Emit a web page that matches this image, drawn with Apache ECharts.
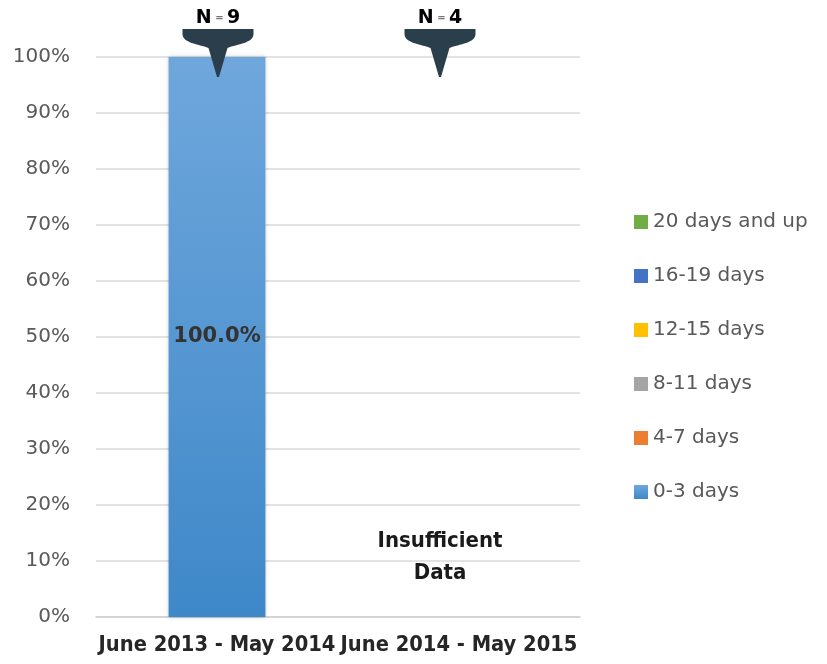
<!DOCTYPE html>
<html>
<head>
<meta charset="utf-8">
<script src="https://cdn.jsdelivr.net/npm/echarts@6/dist/echarts.min.js"></script>
<style>
  html, body { margin: 0; padding: 0; background: #fff; }
  #main { width: 827px; height: 664px; }
</style>
</head>
<body>
<div id="main"></div>
<script>
// periods and sample size per period
var categories = ['June 2013 - May 2014', 'June 2014 - May 2015'];
var sampleN = [9, 4];
// share of cases by length of stay (%), second period has no data
var days0to3 = [100, null];
var days4to7 = [0, null];
var days8to11 = [0, null];
var days12to15 = [0, null];
var days16to19 = [0, null];
var days20up = [0, null];
var yTicks = [0, 10, 20, 30, 40, 50, 60, 70, 80, 90, 100];
var noteText = 'Insufficient\nData';

var pinPath = 'path://M0,0 L71,0 L71,5 C71,14 55,15 45,19 L36.5,48 L34.5,48 L26,19 C16,15 0,14 0,5 Z';

var stackSeries = [
  { name: '0-3 days', data: days0to3, color: '#5b9bd5' },
  { name: '4-7 days', data: days4to7, color: '#ed7d31' },
  { name: '8-11 days', data: days8to11, color: '#a5a5a5' },
  { name: '12-15 days', data: days12to15, color: '#ffc000' },
  { name: '16-19 days', data: days16to19, color: '#4472c4' },
  { name: '20 days and up', data: days20up, color: '#70ad47' }
];

var series = [];
stackSeries.forEach(function (s, idx) {
  var item = {
    name: s.name,
    type: 'bar',
    stack: 'total',
    barWidth: '40%',
    data: s.data,
    itemStyle: { color: s.color },
    label: { show: false }
  };
  if (idx === 0) {
    item.itemStyle = {
      color: new echarts.graphic.LinearGradient(0, 0, 0, 1, [
        { offset: 0, color: '#6fa7dc' },
        { offset: 1, color: '#3e88c9' }
      ]),
      shadowBlur: 4,
      shadowColor: 'rgba(0,0,0,0.25)'
    };
    item.label = {
      show: true,
      position: 'inside',
      formatter: function (p) { return p.value.toFixed(1) + '%'; },
      fontFamily: 'DejaVu Sans',
      fontWeight: 'bold',
      fontSize: 21,
      color: '#333'
    };
  }
  series.push(item);
});

// N = x pins above each period
var pinOffsets = [1, -19];
series.push({
  name: 'pins',
  type: 'scatter',
  clip: false,
  z: 5,
  symbol: pinPath,
  symbolSize: [71, 48],
  data: sampleN.map(function (n, i) {
    return {
      value: [i, 100],
      n: n,
      symbolOffset: [pinOffsets[i], -4]
    };
  }),
  itemStyle: { color: '#2b3e4c', opacity: 1 },
  label: {
    show: true,
    position: 'top',
    distance: 1,
    formatter: function (p) { return '{b|N}{s| = }{b|' + p.data.n + '}'; },
    rich: {
      b: { fontFamily: 'DejaVu Sans', fontWeight: 900, fontSize: 19, color: '#000' },
      s: { fontFamily: 'DejaVu Sans', fontWeight: 'bold', fontSize: 10, color: '#777' }
    }
  }
});

// note for the period without data
series.push({
  name: 'note',
  type: 'scatter',
  symbolSize: 1,
  itemStyle: { color: 'rgba(0,0,0,0)', opacity: 1 },
  data: [[1, 10.7]],
  label: {
    show: true,
    position: 'inside',
    offset: [-19, 0],
    formatter: noteText,
    fontFamily: 'DejaVu Sans Condensed',
    fontWeight: 'bold',
    fontSize: 22,
    lineHeight: 32,
    color: '#1a1a1a',
    align: 'center'
  }
});

var myChart = echarts.init(document.getElementById('main'));
var option = {
  animation: false,
  grid: { left: 96, right: 247, top: 57, bottom: 47 },
  legend: {
    orient: 'vertical',
    left: 629,
    top: 207,
    itemWidth: 14,
    itemHeight: 14,
    itemGap: 34,
    icon: 'rect',
    data: ['20 days and up', '16-19 days', '12-15 days', '8-11 days', '4-7 days', '0-3 days'],
    textStyle: { fontFamily: 'DejaVu Sans', fontSize: 20, color: '#595959' }
  },
  xAxis: {
    type: 'category',
    data: categories,
    axisTick: { show: false },
    axisLine: { lineStyle: { color: '#d0d0d0', width: 1.5 } },
    axisLabel: {
      interval: 0,
      margin: 17,
      fontFamily: 'DejaVu Sans Condensed',
      fontWeight: 'bold',
      fontSize: 21.7,
      color: '#262626'
    }
  },
  yAxis: {
    type: 'value',
    min: yTicks[0],
    max: yTicks[yTicks.length - 1],
    interval: 10,
    axisLine: { show: false },
    axisTick: { show: false },
    splitLine: { lineStyle: { color: '#d9d9d9', width: 1.5 } },
    axisLabel: {
      formatter: '{value}%',
      margin: 26,
      fontFamily: 'DejaVu Sans',
      fontSize: 20,
      color: '#595959'
    }
  },
  series: series
};
myChart.setOption(option);
</script>
</body>
</html>
